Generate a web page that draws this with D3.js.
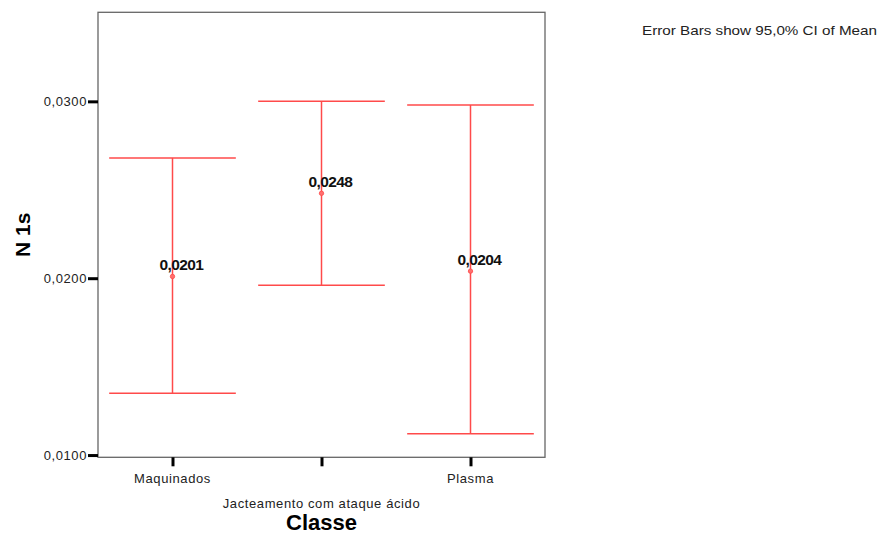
<!DOCTYPE html>
<html>
<head>
<meta charset="utf-8">
<script src="https://cdn.jsdelivr.net/npm/d3@7"></script>
<style>
  html, body { margin: 0; padding: 0; background: #fff; }
  svg { display: block; font-family: Arial, "Liberation Sans", sans-serif; }
</style>
</head>
<body>
<svg id="chart" width="886" height="536"></svg>
<script>
// Groups and 95% confidence intervals of the mean for N 1s
const categories = ["Maquinados", "Jacteamento com ataque ácido", "Plasma"];
const means = [0.0201, 0.0248, 0.0204];
const lowerCI = [0.0135, 0.0196, 0.0112];
const upperCI = [0.0268, 0.0300, 0.0298];
const yTicks = [0.01, 0.02, 0.03];
const meanLabels = ["0,0201", "0,0248", "0,0204"];

const svg = d3.select("#chart");
const plotLeft = 98, plotRight = 545, plotTop = 12.3, plotBottom = 457.3;
const red = "#ff4a4a";

const x = d3.scalePoint().domain(categories).range([plotLeft, plotRight]).padding(0.5);
const y = d3.scaleLinear().domain([0.009873, 0.035035]).range([plotBottom, plotTop]);
const capHalf = x.step() * 0.425;

// Plot frame
svg.append("rect")
  .attr("x", plotLeft).attr("y", plotTop)
  .attr("width", plotRight - plotLeft).attr("height", plotBottom - plotTop)
  .attr("fill", "none").attr("stroke", "#666").attr("stroke-width", 1.3);

// Y axis
const fmt = d => d.toFixed(4).replace(".", ",");
const yAxis = svg.append("g").attr("transform", `translate(${plotLeft},0)`)
  .call(d3.axisLeft(y).tickValues(yTicks).tickSize(10).tickPadding(1).tickFormat(fmt));
yAxis.select(".domain").remove();
yAxis.selectAll(".tick line").attr("stroke", "#000").attr("stroke-width", 3);
yAxis.selectAll(".tick text")
  .attr("font-size", 13).attr("letter-spacing", 0.6).attr("fill", "#222")
  .attr("font-family", "Arial, 'Liberation Sans', sans-serif");

// X axis with staggered labels
const xAxis = svg.append("g").attr("transform", `translate(0,${plotBottom})`)
  .call(d3.axisBottom(x).tickSize(9).tickFormat(""));
xAxis.select(".domain").remove();
xAxis.selectAll(".tick line").attr("stroke", "#000").attr("stroke-width", 3);
svg.append("g").selectAll("text").data(categories).join("text")
  .attr("x", d => x(d))
  .attr("y", (d, i) => i % 2 === 0 ? 483 : 508)
  .attr("text-anchor", "middle")
  .attr("font-size", 13).attr("letter-spacing", 0.6).attr("fill", "#222")
  .text(d => d);

// Axis titles
svg.append("text")
  .attr("x", (plotLeft + plotRight) / 2).attr("y", 530)
  .attr("text-anchor", "middle").attr("font-size", 22).attr("font-weight", "bold")
  .text("Classe");
svg.append("text")
  .attr("transform", `translate(30,${(plotTop + plotBottom) / 2}) rotate(-90)`)
  .attr("text-anchor", "middle").attr("font-size", 21).attr("font-weight", "bold")
  .text("N 1s");

// Note
svg.append("text")
  .attr("x", 642).attr("y", 35)
  .attr("font-size", 13).attr("fill", "#222")
  .attr("textLength", 235).attr("lengthAdjust", "spacingAndGlyphs")
  .text("Error Bars show 95,0% CI of Mean");

// Error bars
const bars = svg.append("g").selectAll("g").data(categories).join("g");
bars.append("line")
  .attr("x1", d => x(d)).attr("x2", d => x(d))
  .attr("y1", (d, i) => y(upperCI[i])).attr("y2", (d, i) => y(lowerCI[i]))
  .attr("stroke", red).attr("stroke-width", 1.5);
bars.append("line")
  .attr("x1", d => x(d) - capHalf).attr("x2", d => x(d) + capHalf)
  .attr("y1", (d, i) => y(upperCI[i])).attr("y2", (d, i) => y(upperCI[i]))
  .attr("stroke", red).attr("stroke-width", 1.5);
bars.append("line")
  .attr("x1", d => x(d) - capHalf).attr("x2", d => x(d) + capHalf)
  .attr("y1", (d, i) => y(lowerCI[i])).attr("y2", (d, i) => y(lowerCI[i]))
  .attr("stroke", red).attr("stroke-width", 1.5);
bars.append("circle")
  .attr("cx", d => x(d)).attr("cy", (d, i) => y(means[i]))
  .attr("r", 2.2).attr("fill", "#ff7070").attr("stroke", red).attr("stroke-width", 0.8);
bars.append("text")
  .attr("x", d => x(d) - 13).attr("y", (d, i) => y(means[i]) - 6)
  .attr("font-size", 15.5).attr("font-weight", "bold").attr("letter-spacing", -0.6)
  .attr("fill", "#111")
  .text((d, i) => meanLabels[i]);
</script>
</body>
</html>
